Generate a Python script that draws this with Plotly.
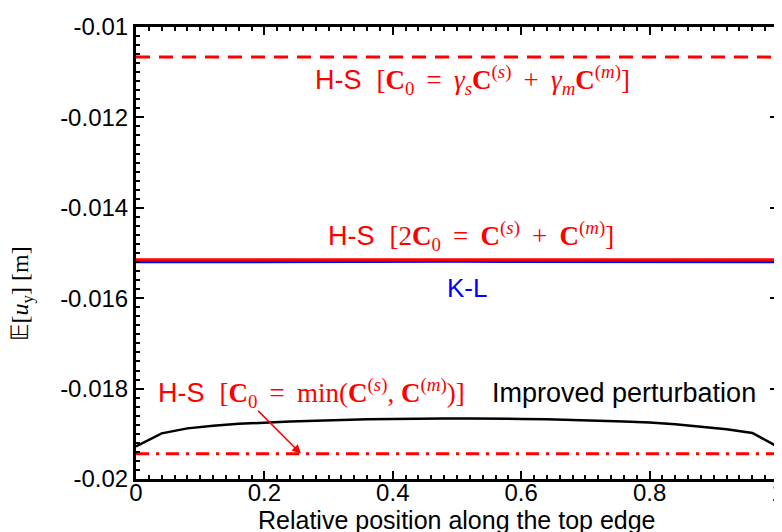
import plotly.graph_objects as go

# ---- data ----
x_pert = [0.0, 0.04, 0.08, 0.12, 0.16, 0.20, 0.24, 0.28, 0.32, 0.36, 0.40, 0.44, 0.48,
          0.52, 0.56, 0.60, 0.64, 0.68, 0.72, 0.76, 0.80, 0.84, 0.88, 0.92, 0.96, 1.0]
y_pert = [-0.01928, -0.01899, -0.01888, -0.01882, -0.01878, -0.01875, -0.01873, -0.01871,
          -0.01869, -0.01868, -0.01867, -0.01866, -0.01866, -0.01866, -0.01866, -0.01867,
          -0.01868, -0.01869, -0.01871, -0.01873, -0.01875, -0.01879, -0.01884, -0.01890,
          -0.01898, -0.01929]
x_flat = [0.0, 0.5, 1.0]
y_hs_gamma = [-0.010665, -0.010665, -0.010665]
y_hs_avg = [-0.015148, -0.015145, -0.015148]
y_kl = [-0.015195, -0.015185, -0.015195]
y_hs_min = [-0.019443, -0.019443, -0.019443]

ytick_vals = [-0.02, -0.018, -0.016, -0.014, -0.012, -0.01]
ytick_text = ["-0.02", "-0.018", "-0.016", "-0.014", "-0.012", "-0.01"]
xtick_vals = [0, 0.2, 0.4, 0.6, 0.8, 1]
xtick_text = ["0", "0.2", "0.4", "0.6", "0.8", "1"]

RED = "#ff0000"
BLUE = "#0000ff"
SANS = "Liberation Sans, Arial, sans-serif"
SERIF = "Liberation Serif, Times New Roman, serif"

fig = go.Figure()
fig.add_trace(go.Scatter(x=x_flat, y=y_hs_gamma, mode="lines",
                         line=dict(color=RED, width=3, dash="14px,9px")))
fig.add_trace(go.Scatter(x=x_flat, y=y_kl, mode="lines",
                         line=dict(color=BLUE, width=3)))
fig.add_trace(go.Scatter(x=x_flat, y=y_hs_avg, mode="lines",
                         line=dict(color=RED, width=3)))
fig.add_trace(go.Scatter(x=x_flat, y=y_hs_min, mode="lines",
                         line=dict(color=RED, width=3, dash="13px,7px,3px,7px")))
fig.add_trace(go.Scatter(x=x_pert, y=y_pert, mode="lines",
                         line=dict(color="black", width=2.5)))

SP = "\u2009"  # thin space


def sf(t):
    return f'<span style="font-family:{SERIF}">{t}</span>'


EQ = f"{SP} = {SP}"
PL = f"{SP} + {SP}"
lab_gamma = "H-S  " + sf(f"[<b>C</b><sub>0</sub>{EQ}<i>γ<sub>s</sub></i><b>C</b><sup>(<i>s</i>)</sup>{PL}"
                        f"<i>γ<sub>m</sub></i><b>C</b><sup>(<i>m</i>)</sup>]")
lab_avg = "H-S  " + sf(f"[2<b>C</b><sub>0</sub>{EQ}<b>C</b><sup>(<i>s</i>)</sup>{PL}<b>C</b><sup>(<i>m</i>)</sup>]")
lab_min = "H-S  " + sf(f"[<b>C</b><sub>0</sub>{EQ}min(<b>C</b><sup>(<i>s</i>)</sup>, <b>C</b><sup>(<i>m</i>)</sup>)]")

AF = 27
ann = [
    dict(x=0.524, y=-0.011165, text=lab_gamma, font=dict(color=RED, size=AF, family=SANS),
         showarrow=False, xanchor="center", yanchor="middle"),
    dict(x=0.522, y=-0.01463, text=lab_avg, font=dict(color=RED, size=AF, family=SANS),
         showarrow=False, xanchor="center", yanchor="middle"),
    dict(x=0.515, y=-0.01578, text="K-L", font=dict(color=BLUE, size=26, family=SANS),
         showarrow=False, xanchor="center", yanchor="middle"),
    dict(x=0.031, y=-0.01809, text=lab_min, font=dict(color=RED, size=AF, family=SANS),
         showarrow=False, xanchor="left", yanchor="middle"),
    dict(x=0.969, y=-0.01809, text="Improved perturbation", font=dict(color="black", size=AF, family=SANS),
         showarrow=False, xanchor="right", yanchor="middle"),
    dict(x=0.257, y=-0.019443, ax=0.188, ay=-0.01846, axref="x", ayref="y", xref="x", yref="y",
         text="", showarrow=True, arrowhead=2, arrowsize=1.2, arrowwidth=1.5, arrowcolor=RED),
    dict(x=-0.178, y=0.41, xref="paper", yref="paper", textangle=-90,
         text="𝔼[<i>u</i><sub>y</sub>] [m]", font=dict(color="black", size=24, family=SERIF),
         showarrow=False, xanchor="center", yanchor="middle"),
    dict(x=0.5, y=-0.09, xref="paper", yref="paper",
         text="Relative position along the top edge", font=dict(color="black", size=25, family=SANS),
         showarrow=False, xanchor="center", yanchor="middle", borderpad=0),
]

fig.update_layout(
    width=782, height=532,
    margin=dict(l=128, r=5, t=17, b=61),
    plot_bgcolor="white", paper_bgcolor="white",
    showlegend=False,
    font=dict(family=SANS, size=24, color="black"),
    annotations=ann,
)
fig.update_xaxes(range=[0, 1], tickvals=xtick_vals, ticktext=xtick_text,
                 showline=True, linewidth=3, linecolor="black", mirror="allticks",
                 ticks="inside", ticklen=8, tickwidth=1.5, tickcolor="black",
                 minor=dict(dtick=0.02, ticks="inside", ticklen=4, tickwidth=1.5, tickcolor="black"),
                 showgrid=False, zeroline=False, tickfont=dict(size=24),
                 ticklabelstandoff=-10)
fig.update_yaxes(range=[-0.02, -0.01], tickvals=ytick_vals, ticktext=ytick_text,
                 showline=True, linewidth=3, linecolor="black", mirror="allticks",
                 ticks="inside", ticklen=8, tickwidth=1.5, tickcolor="black",
                 minor=dict(dtick=0.0002, ticks="inside", ticklen=4, tickwidth=1.5, tickcolor="black"),
                 showgrid=False, zeroline=False, tickfont=dict(size=24))

fig.write_html("out.html")
